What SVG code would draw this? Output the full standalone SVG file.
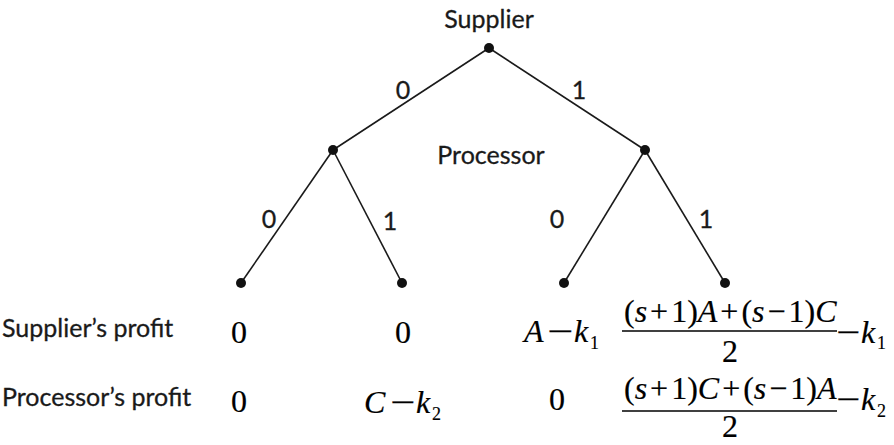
<svg xmlns="http://www.w3.org/2000/svg" width="894" height="445" viewBox="0 0 894 445">
<style>
.lbl{font-family:Lato,"Open Sans","Liberation Sans",sans-serif;font-size:25px;fill:#1a1a1a;stroke:#1a1a1a;stroke-width:0.3}
.m{font-family:"Liberation Serif","Times New Roman",serif;font-size:32px;fill:#000;stroke:#000;stroke-width:0.2}
.i{font-style:italic}
.sub{font-family:"Liberation Serif","Times New Roman",serif;font-size:18px;fill:#000;stroke:#000;stroke-width:0.15}
.edge{stroke:#1a1a1a;stroke-width:1.6;fill:none}
.dot{fill:#111}
.bar{stroke:#000;stroke-width:1.4}
</style>
<rect width="894" height="445" fill="#fff"/>
<g id="connectors">
<line class="edge" x1="489" y1="48" x2="333" y2="150"/>
<line class="edge" x1="489" y1="48" x2="645" y2="150"/>
<line class="edge" x1="333" y1="150" x2="241" y2="283"/>
<line class="edge" x1="333" y1="150" x2="402" y2="283"/>
<line class="edge" x1="645" y1="150" x2="564" y2="283"/>
<line class="edge" x1="645" y1="150" x2="725" y2="283"/>
<text class="lbl" x="403" y="99" text-anchor="middle">0</text>
<text class="lbl" x="579" y="99" text-anchor="middle">1</text>
<text class="lbl" x="269" y="228" text-anchor="middle">0</text>
<text class="lbl" x="390" y="230" text-anchor="middle">1</text>
<text class="lbl" x="557" y="228" text-anchor="middle">0</text>
<text class="lbl" x="706" y="228" text-anchor="middle">1</text>
</g>
<g id="supplier">
<circle class="dot" cx="489" cy="48" r="5"/>
<text class="lbl" x="489" y="28" text-anchor="middle">Supplier</text>
</g>
<g id="processor-left">
<circle class="dot" cx="333" cy="150" r="5"/>
</g>
<g id="processor-right">
<circle class="dot" cx="645" cy="150" r="5"/>
<text class="lbl" x="491" y="164" text-anchor="middle">Processor</text>
</g>
<g id="leaf-00"><circle class="dot" cx="241" cy="283" r="5"/></g>
<g id="leaf-01"><circle class="dot" cx="402" cy="283" r="5"/></g>
<g id="leaf-10"><circle class="dot" cx="564" cy="283" r="5"/></g>
<g id="leaf-11"><circle class="dot" cx="725" cy="283" r="5"/></g>
<g id="row-labels">
<text class="lbl" x="2" y="337">Supplier’s profit</text>
<text class="lbl" x="2" y="406">Processor’s profit</text>
</g>
<g id="payoffs">
<text class="m" x="239" y="343" text-anchor="middle">0</text>
<text class="m" x="403" y="343" text-anchor="middle">0</text>
<text class="m i" x="524" y="342">A</text>
<text class="m" x="547" y="342" textLength="26" lengthAdjust="spacingAndGlyphs">−</text>
<text class="m i" x="574" y="342">k</text>
<text class="sub" x="590" y="349">1</text>
<text class="m" x="624" y="322">(<tspan class="i">s</tspan><tspan dx="3">+</tspan><tspan dx="3">1)</tspan><tspan class="i">A</tspan><tspan dx="3">+</tspan><tspan dx="3">(</tspan><tspan class="i">s</tspan><tspan dx="3">−</tspan><tspan dx="3">1)</tspan><tspan class="i">C</tspan></text>
<line class="bar" x1="622" y1="331" x2="837" y2="331"/>
<text class="m" x="730" y="362" text-anchor="middle">2</text>
<text class="m" x="836" y="343" textLength="24" lengthAdjust="spacingAndGlyphs">−</text>
<text class="m i" x="861" y="343">k</text>
<text class="sub" x="877" y="349">1</text>

<text class="m" x="239" y="412" text-anchor="middle">0</text>
<text class="m i" x="364" y="413">C</text>
<text class="m" x="390" y="413" textLength="25" lengthAdjust="spacingAndGlyphs">−</text>
<text class="m i" x="416" y="413">k</text>
<text class="sub" x="432" y="420">2</text>
<text class="m" x="557" y="410" text-anchor="middle">0</text>
<text class="m" x="624" y="399">(<tspan class="i">s</tspan><tspan dx="3">+</tspan><tspan dx="3">1)</tspan><tspan class="i">C</tspan><tspan dx="3">+</tspan><tspan dx="3">(</tspan><tspan class="i">s</tspan><tspan dx="3">−</tspan><tspan dx="3">1)</tspan><tspan class="i">A</tspan></text>
<line class="bar" x1="622" y1="411" x2="837" y2="411"/>
<text class="m" x="730" y="437" text-anchor="middle">2</text>
<text class="m" x="836" y="410" textLength="24" lengthAdjust="spacingAndGlyphs">−</text>
<text class="m i" x="861" y="410">k</text>
<text class="sub" x="877" y="417">2</text>
</g>
</svg>
